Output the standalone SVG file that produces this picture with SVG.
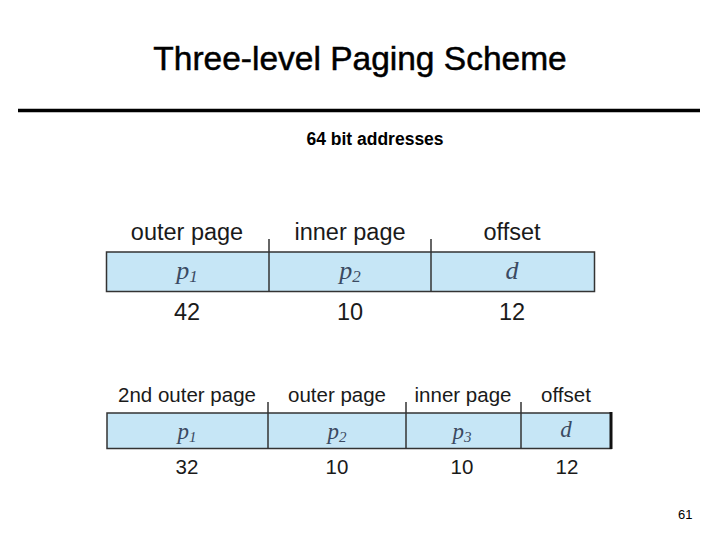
<svg xmlns="http://www.w3.org/2000/svg" width="720" height="540" viewBox="0 0 720 540">
<style>
.title{font-family:"Liberation Sans",Arial,sans-serif;font-size:33.5px;fill:#000;stroke:#000;stroke-width:0.5}
.sub{font-family:"Liberation Sans",Arial,sans-serif;font-size:17.5px;font-weight:bold;fill:#000}
.lab1{font-family:"Liberation Sans",Arial,sans-serif;font-size:23.5px;fill:#1a1a1a;text-anchor:middle}
.lab2{font-family:"Liberation Sans",Arial,sans-serif;font-size:20.5px;fill:#1a1a1a;text-anchor:middle}
.var{font-family:"Liberation Serif","Times New Roman",serif;font-style:italic;fill:#3a4a62;text-anchor:middle}
.cell{fill:#c6e6f6;stroke:#333;stroke-width:1.5}
.div{stroke:#333;stroke-width:1.5}
.pg{font-family:"Liberation Sans",Arial,sans-serif;font-size:13px;fill:#000}
</style>
<rect width="720" height="540" fill="#fff"/>
<text class="title" x="360" y="70" text-anchor="middle">Three-level Paging Scheme</text>
<line x1="18" y1="110.5" x2="700" y2="110.5" stroke="#000" stroke-width="3.5"/>
<text class="sub" x="375" y="145" text-anchor="middle">64 bit addresses</text>

<g id="table1">
<rect class="cell" x="106.5" y="252" width="488" height="39.5"/>
<line class="div" x1="269" y1="239" x2="269" y2="291.5"/>
<line class="div" x1="431" y1="239" x2="431" y2="291.5"/>
<text class="lab1" x="187" y="240">outer page</text>
<text class="lab1" x="350" y="240">inner page</text>
<text class="lab1" x="512" y="240">offset</text>
<text class="var" x="187" y="279" font-size="26">p<tspan font-size="17" dy="3">1</tspan></text>
<text class="var" x="350" y="279" font-size="26">p<tspan font-size="17" dy="3">2</tspan></text>
<text class="var" x="512" y="279" font-size="26">d</text>
<text class="lab1" x="187" y="320">42</text>
<text class="lab1" x="350" y="320">10</text>
<text class="lab1" x="512" y="320">12</text>
</g>

<g id="table2">
<rect class="cell" x="107" y="413" width="504" height="35.5"/>
<line x1="611" y1="412" x2="611" y2="449" stroke="#111" stroke-width="3"/>
<line class="div" x1="268" y1="402" x2="268" y2="448.5"/>
<line class="div" x1="406" y1="402" x2="406" y2="448.5"/>
<line class="div" x1="521" y1="402" x2="521" y2="448.5"/>
<text class="lab2" x="187" y="402">2nd outer page</text>
<text class="lab2" x="337" y="402">outer page</text>
<text class="lab2" x="463" y="402">inner page</text>
<text class="lab2" x="566" y="402">offset</text>
<text class="var" x="187" y="439" font-size="23">p<tspan font-size="15" dy="3">1</tspan></text>
<text class="var" x="337" y="439" font-size="23">p<tspan font-size="15" dy="3">2</tspan></text>
<text class="var" x="462" y="439" font-size="23">p<tspan font-size="15" dy="3">3</tspan></text>
<text class="var" x="566" y="437" font-size="23">d</text>
<text class="lab2" x="187" y="474">32</text>
<text class="lab2" x="337" y="474">10</text>
<text class="lab2" x="462" y="474">10</text>
<text class="lab2" x="567" y="474">12</text>
</g>

<text class="pg" x="678" y="519">61</text>
</svg>
